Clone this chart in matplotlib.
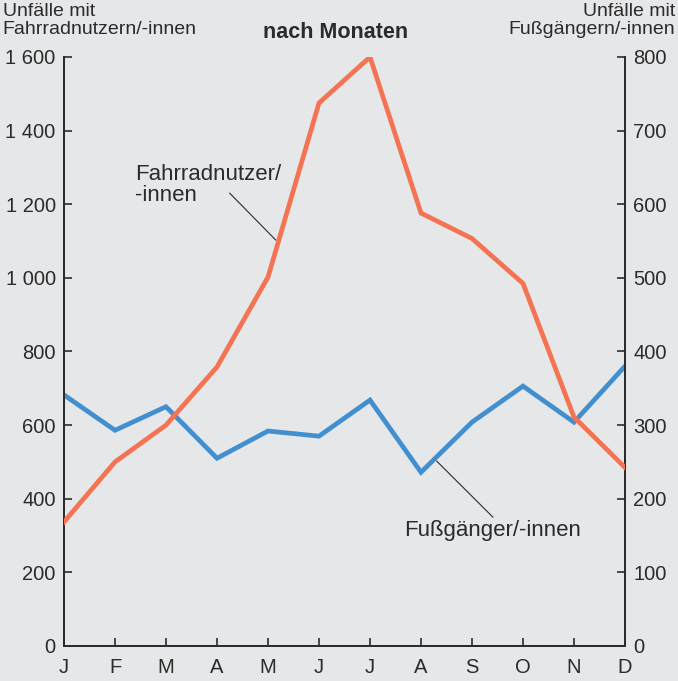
import numpy as np
import matplotlib.pyplot as plt

months = ['J', 'F', 'M', 'A', 'M', 'J', 'J', 'A', 'S', 'O', 'N', 'D']
rad = [337, 500, 600, 758, 1002, 1475, 1600, 1176, 1107, 985, 622, 485]
fuss = [341, 293, 325, 255, 292, 285, 334, 236, 304, 353, 304, 380]
left_ticks = [0, 200, 400, 600, 800, 1000, 1200, 1400, 1600]
left_labels = ['0', '200', '400', '600', '800', '1 000', '1 200', '1 400', '1 600']
right_ticks = [0, 100, 200, 300, 400, 500, 600, 700, 800]

bg = '#e6e7e9'
dark = '#2b2b2b'
plt.rcParams['font.family'] = ['Liberation Sans', 'DejaVu Sans']

fig = plt.figure(figsize=(6.78, 6.81), dpi=100, facecolor=bg)
ax = fig.add_axes([0.0944, 0.0514, 0.8274, 0.8649], facecolor=bg)
ax2 = ax.twinx()

x = np.arange(len(months))
ax2.plot(x, fuss, color='#428fcf', lw=3.4, solid_joinstyle='miter', zorder=2)
ax.plot(x, rad, color='#f47352', lw=3.4, solid_joinstyle='miter', zorder=3)
ax.set_zorder(ax2.get_zorder() + 1)
ax.patch.set_visible(False)

ax.set_xlim(0, 11)
ax.set_ylim(0, 1600)
ax2.set_ylim(0, 800)
ax.set_xticks(x)
ax.set_xticklabels(months)
ax.set_yticks(left_ticks)
ax.set_yticklabels(left_labels)
ax2.set_yticks(right_ticks)

for a in (ax, ax2):
    a.spines['top'].set_visible(False)
    for s in ('left', 'right', 'bottom'):
        a.spines[s].set_color(dark)
        a.spines[s].set_linewidth(1.3)
    a.tick_params(direction='in', length=6, width=1.2, color=dark,
                  labelsize=14.5, labelcolor=dark, pad=6)
ax.tick_params(axis='x', pad=9)

fig.text(0.004, 0.995, 'Unfälle mit\nFahrradnutzern/-innen', ha='left', va='top',
         fontsize=14, color=dark, linespacing=1.08)
fig.text(0.996, 0.995, 'Unfälle mit\nFußgängern/-innen', ha='right', va='top',
         fontsize=14, color=dark, linespacing=1.08)
fig.text(0.495, 0.953, 'nach Monaten', ha='center', va='center',
         fontsize=15.5, fontweight='bold', color=dark)

ax.text(1.4, 1310, 'Fahrradnutzer/\n-innen', fontsize=16, color=dark,
        ha='left', va='top', linespacing=1.0)
ax.plot([3.25, 4.15], [1230, 1103], color=dark, lw=0.8, zorder=4)
ax.text(6.67, 315, 'Fußgänger/-innen', fontsize=16, color=dark,
        ha='left', va='center')
ax.plot([7.31, 8.41], [502, 350], color=dark, lw=0.8, zorder=4)

fig.savefig('out.png', dpi=100, facecolor=bg)
